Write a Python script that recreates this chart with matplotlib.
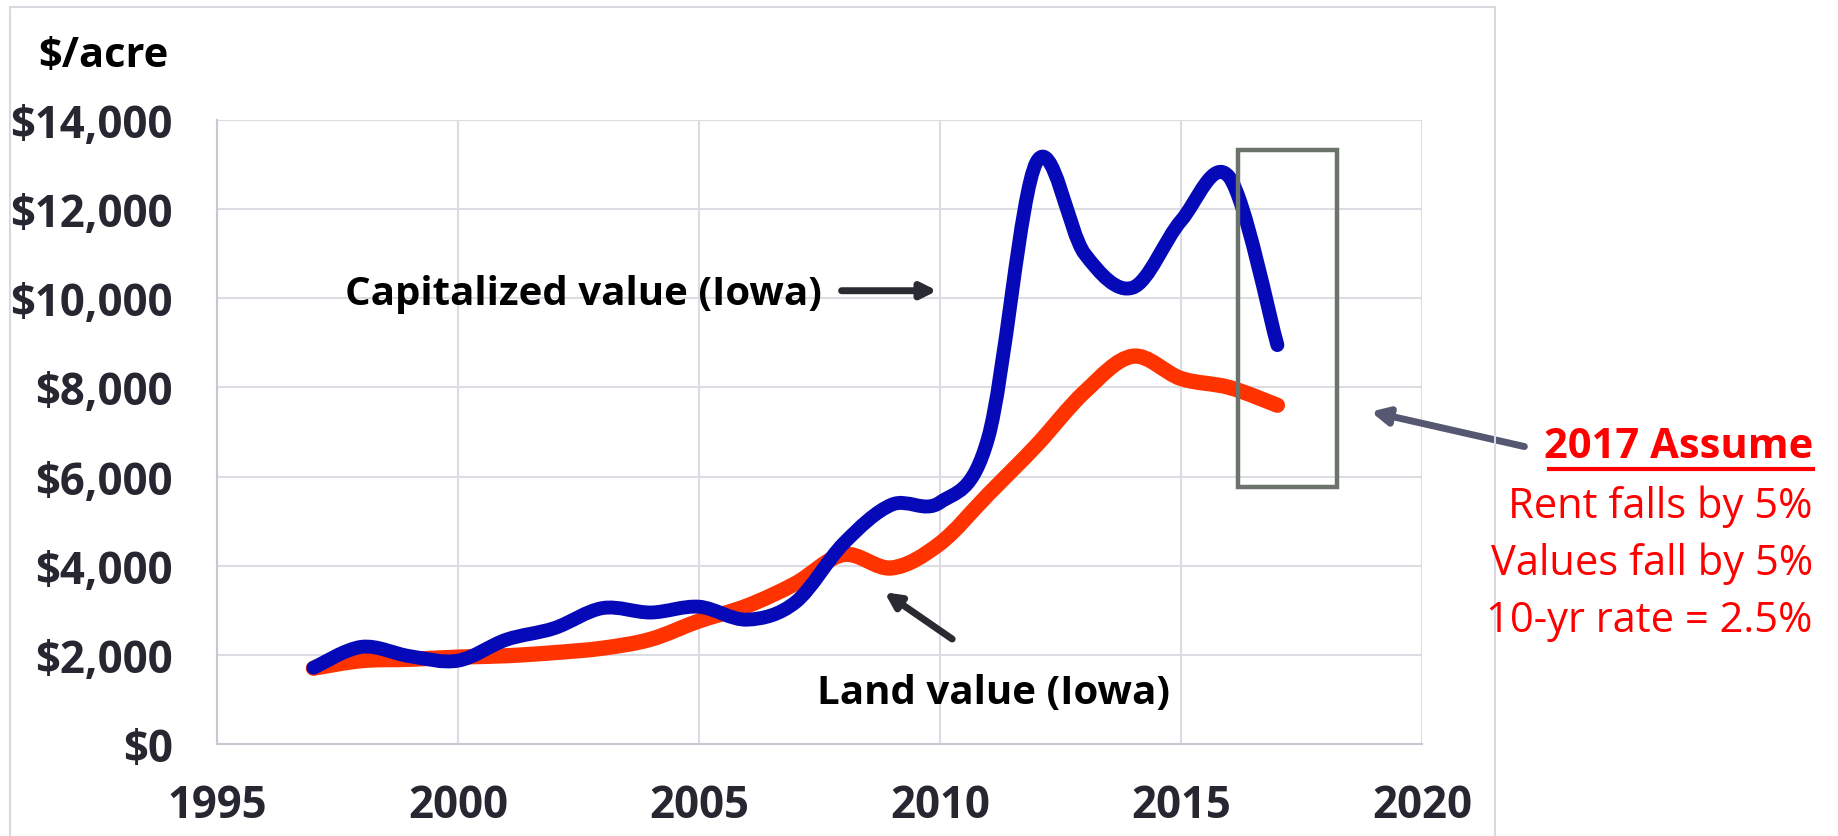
import numpy as np
from matplotlib import pyplot as plt
from matplotlib.path import Path
from matplotlib.patches import PathPatch, Rectangle

years = list(range(1997, 2018))
capitalized = [1710, 2180, 1970, 1870, 2340, 2600, 3050, 2950, 3080, 2790, 3180,
               4500, 5370, 5420, 6870, 13050, 11000, 10240, 11740, 12720, 8950]
land = [1700, 1870, 1900, 1950, 1980, 2050, 2150, 2350, 2760, 3100, 3600,
        4250, 3950, 4500, 5600, 6700, 7900, 8700, 8200, 8000, 7600]

x_ticks = [1995, 2000, 2005, 2010, 2015, 2020]
y_ticks = list(range(0, 14001, 2000))
notes = ["Rent falls by 5%", "Values fall by 5%", "10-yr rate = 2.5%"]


def smooth_path(x, y):
    """Bezier path through the points, like Excel's smoothed line."""
    p = np.column_stack([x, y]).astype(float)
    ext = np.vstack([p[0], p, p[-1]])
    verts = [p[0]]
    codes = [Path.MOVETO]
    for i in range(len(p) - 1):
        p0, p1, p2, p3 = ext[i], ext[i + 1], ext[i + 2], ext[i + 3]
        verts += [p1 + (p2 - p0) / 6, p2 - (p3 - p1) / 6, p2]
        codes += [Path.CURVE4] * 3
    return Path(verts, codes)


plt.rcParams['font.family'] = ['Open Sans', 'DejaVu Sans']

fig = plt.figure(figsize=(18.38, 8.37), dpi=100)
ax = fig.add_axes([217 / 1838, 92 / 837, 1205 / 1838, 624 / 837])

# outer chart frame
fig.patches.append(Rectangle((10 / 1838, -0.01), 1485 / 1838, 1.0, transform=fig.transFigure,
                             fill=False, edgecolor="#d9d9df", lw=1.5))

ax.set_xlim(1995, 2020)
ax.set_ylim(0, 14000)
ax.set_xticks(x_ticks)
ax.set_yticks(y_ticks)
ax.set_yticklabels(["${:,}".format(v) for v in y_ticks])
ax.grid(True, color="#dcdce3", lw=1.5)
ax.set_axisbelow(True)
for s in ["top", "right"]:
    ax.spines[s].set_visible(False)
for s in ["left", "bottom"]:
    ax.spines[s].set_color("#c8c8d2")
    ax.spines[s].set_linewidth(1.5)
ax.tick_params(length=0, labelsize=31.5, labelcolor="#272731")
ax.tick_params(axis="y", pad=32)
ax.tick_params(axis="x", pad=28)
for lab in ax.get_xticklabels() + ax.get_yticklabels():
    lab.set_fontweight("bold")

ax.add_patch(PathPatch(smooth_path(years, land), fill=False, edgecolor="#ff3300",
                       lw=11, capstyle="round", joinstyle="round"))
ax.add_patch(PathPatch(smooth_path(years, capitalized), fill=False, edgecolor="#0509b8",
                       lw=10, capstyle="round", joinstyle="round"))

fig.text(103 / 1838, 1 - 56 / 837, "$/acre", fontsize=30, fontweight="bold",
         ha="center", va="center")

# labels with arrows
ax.text(2002.6, 10100, "Capitalized value (Iowa)", fontsize=29, fontweight="bold",
        ha="center", va="center")
ax.annotate("", xy=(2010.0, 10170), xytext=(2007.9, 10170),
            arrowprops=dict(arrowstyle="-|>,head_length=0.9,head_width=0.45",
                            color="#2a2a33", lw=5))
ax.text(2011.1, 1150, "Land value (Iowa)", fontsize=29, fontweight="bold",
        ha="center", va="center")
ax.annotate("", xy=(2008.8, 3440), xytext=(2010.3, 2320),
            arrowprops=dict(arrowstyle="-|>,head_length=0.9,head_width=0.45",
                            color="#2a2a33", lw=5))

# 2017 box and note
ax.add_patch(Rectangle((2016.18, 5770), 2.06, 7560, fill=False, edgecolor="#6b736b",
                       lw=3.2, clip_on=False))
ax.annotate("", xy=(2018.88, 7470), xytext=(2022.18, 6660),
            arrowprops=dict(arrowstyle="-|>,head_length=1.0,head_width=0.5",
                            color="#555870", lw=5), annotation_clip=False)

fig.text(1813 / 1838, 1 - 448 / 837, "2017 Assume", fontsize=30, fontweight="bold",
         color="#ff0000", ha="right", va="center")
fig.add_artist(plt.Line2D([1549 / 1838, 1813 / 1838], [1 - 470 / 837, 1 - 470 / 837],
                          color="#ff0000", lw=3, transform=fig.transFigure))
for i, t in enumerate(notes):
    fig.text(1813 / 1838, 1 - (507 + 57 * i) / 837, t, fontsize=30,
             color="#ff0000", ha="right", va="center")

fig.savefig("out.png")
